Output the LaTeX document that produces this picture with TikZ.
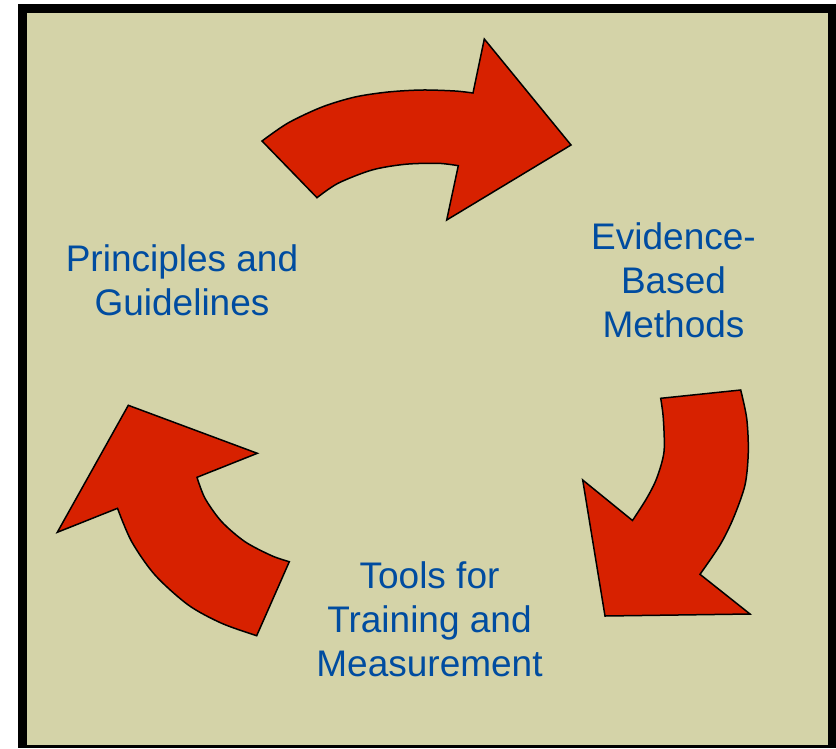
\documentclass[tikz,border=0pt]{standalone}
\usepackage{fontspec}
\setmainfont{Liberation Sans}
\definecolor{khaki}{RGB}{212,211,168}
\definecolor{arrowred}{RGB}{215,33,0}
\definecolor{labelblue}{RGB}{0,76,160}
\tikzset{
  cyclearrow/.style={fill=arrowred, draw=black, line width=1.5pt, line join=miter},
  cyclelabel/.style={text=labelblue, align=center, inner sep=0pt, anchor=base,
    font=\fontsize{37}{44}\selectfont}
}
\begin{document}
\begin{tikzpicture}[x=1pt,y=-1pt]
\useasboundingbox (0,0) rectangle (836,748);
% frame
\fill[white] (0,0) rectangle (836,748);
\fill[black] (18,4) rectangle (836,748);
\fill[khaki] (27,13) rectangle (828,745);
% arrow 1 (top)
\filldraw[cyclearrow]
  plot[smooth] coordinates {(262,141) (288,123) (322,107) (355,97) (388,92) (422,90) (455,91) (473,93)}
  -- (484.3,39) -- (571,145) -- (446.7,220) -- (458.3,165.7)
  -- plot[smooth] coordinates {(458.3,165.7) (438,163.3) (405,164.3) (372,170) (338,183.3) (317,197.7)}
  -- cycle;
% arrow 2 (right)
\filldraw[cyclearrow]
  (660.7,398.3) -- (740.7,390)
  -- plot[smooth] coordinates {(740.7,390) (746.7,418.3) (748.3,451.7) (745,485) (733.3,518.3) (720,545) (700,574.3)}
  -- (750,614) -- (605,616) -- (582.7,480) -- (632.5,520.5)
  -- plot[smooth] coordinates {(632.5,520.5) (646.7,498.3) (656.7,478.3) (664,451.7) (663.3,418.3) (660.7,398.3)}
  -- cycle;
% arrow 3 (left)
\filldraw[cyclearrow]
  (256.7,635.7) -- (289.3,561.7)
  -- plot[smooth] coordinates {(289.3,561.7) (271.7,555.7) (245,541.7) (221.7,521.7) (205,498.3) (197,477.3)}
  -- (257.3,453.3) -- (128.3,405.3) -- (57.3,532.3) -- (117.5,508.3)
  -- plot[smooth] coordinates {(117.5,508.3) (131.7,541.7) (155,575) (188.3,605) (221.7,623.3) (256.7,635.7)}
  -- cycle;
% labels (anchor=base is the baseline of the last line)
\node[cyclelabel] (principles) at (182,315.5) {Principles and\\Guidelines};
\node[cyclelabel] (evidence) at (673.5,337) {Evidence-\\Based\\Methods};
\node[cyclelabel] (tools) at (429.5,676) {Tools for\\Training and\\Measurement};
\end{tikzpicture}
\end{document}
